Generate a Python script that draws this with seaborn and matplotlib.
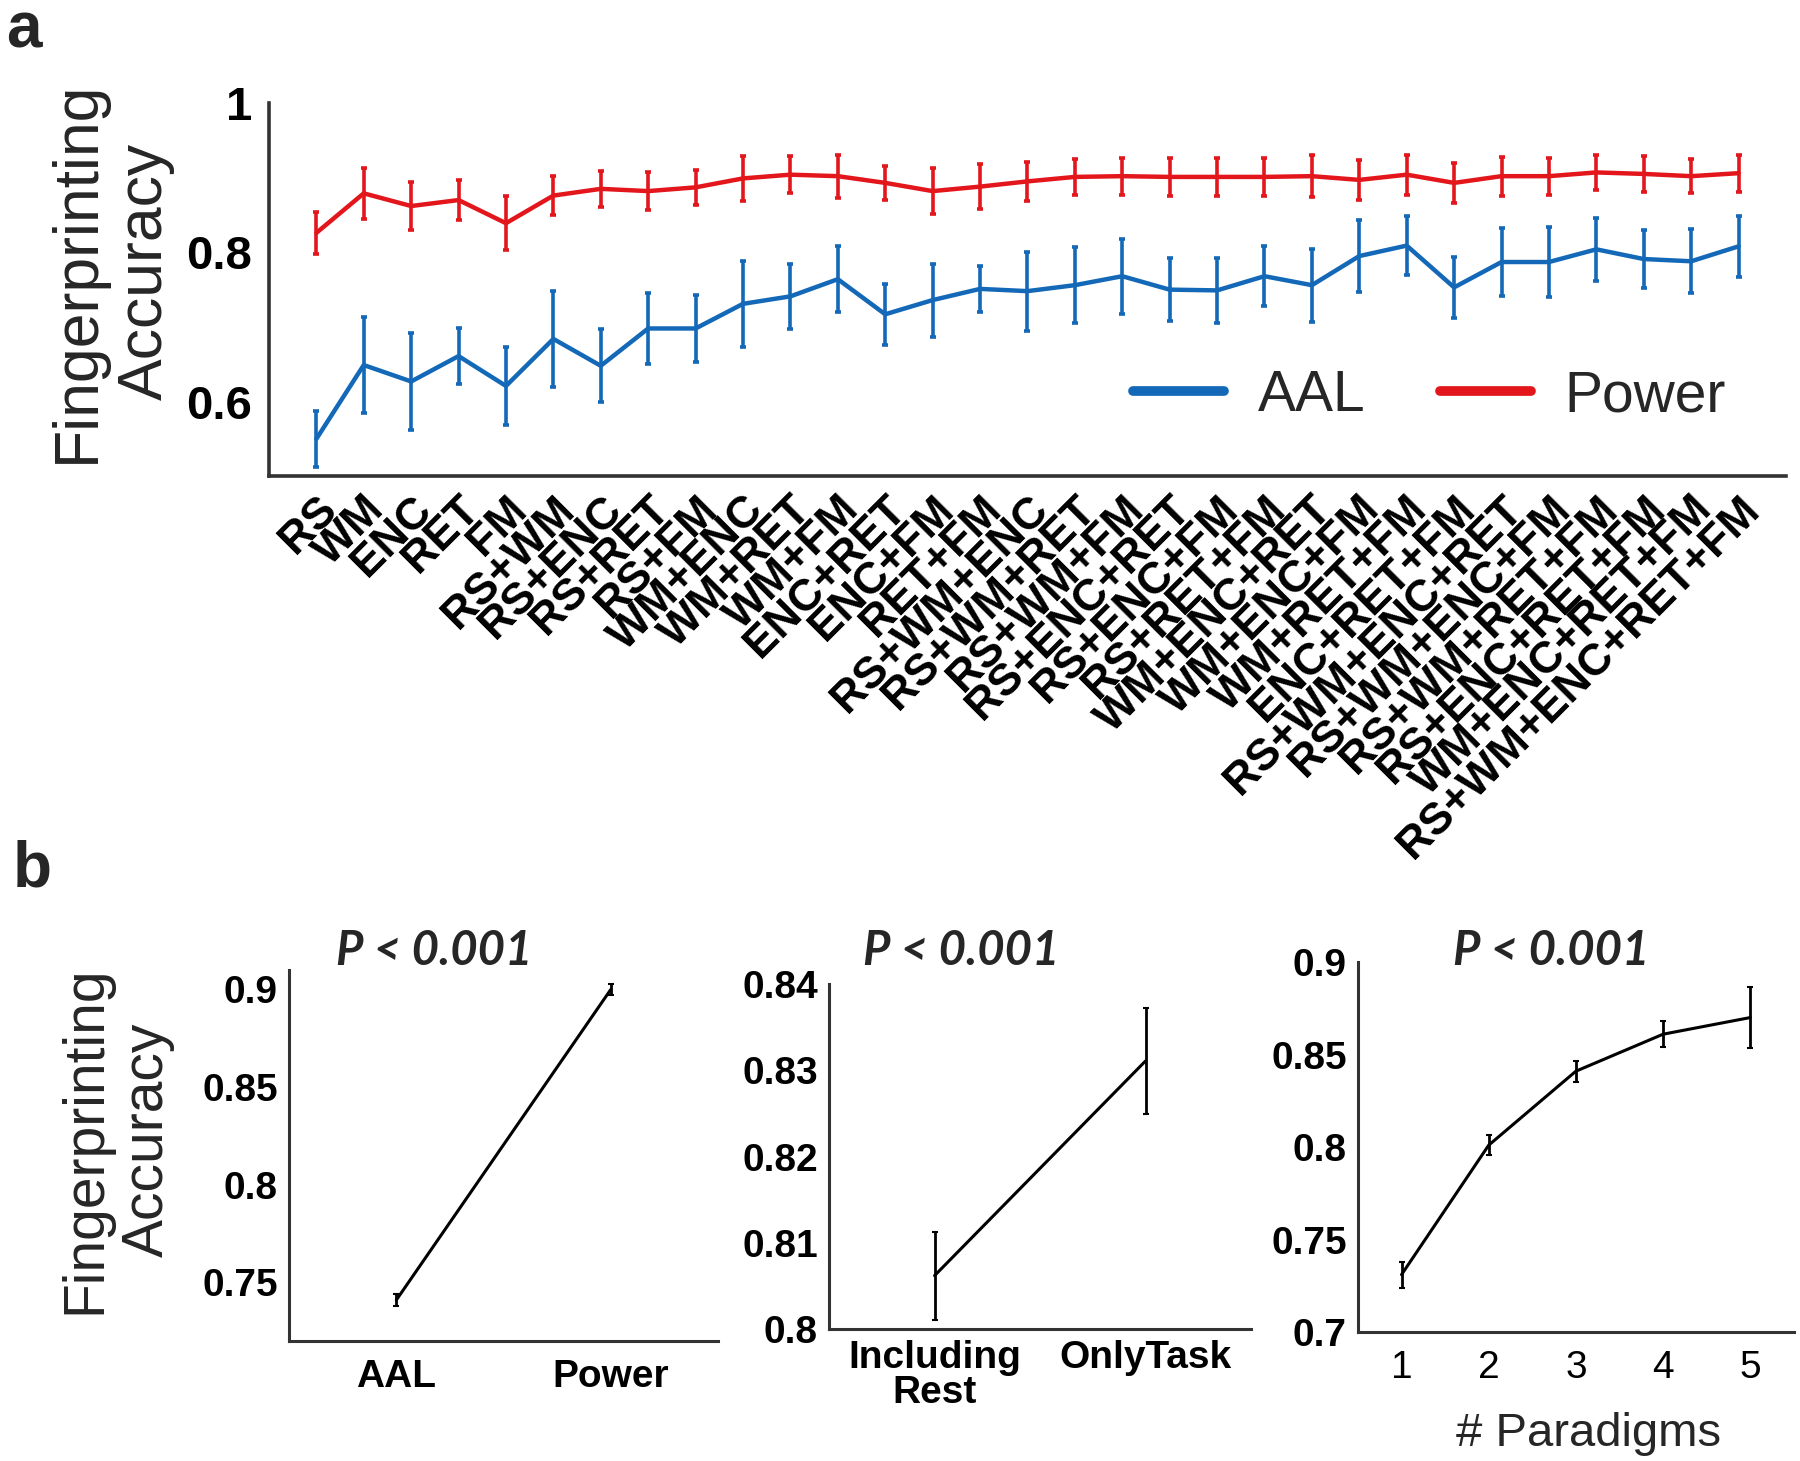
import pandas as pd
import seaborn as sns
import numpy as np
import matplotlib.pyplot as plt

# ---- panel a data ----
conditions = [
    "RS", "WM", "ENC", "RET", "FM",
    "RS+WM", "RS+ENC", "RS+RET", "RS+FM", "WM+ENC", "WM+RET", "WM+FM",
    "ENC+RET", "ENC+FM", "RET+FM",
    "RS+WM+ENC", "RS+WM+RET", "RS+WM+FM", "RS+ENC+RET", "RS+ENC+FM",
    "RS+RET+FM", "WM+ENC+RET", "WM+ENC+FM", "WM+RET+FM", "ENC+RET+FM",
    "RS+WM+ENC+RET", "RS+WM+ENC+FM", "RS+WM+RET+FM", "RS+ENC+RET+FM",
    "WM+ENC+RET+FM", "RS+WM+ENC+RET+FM",
]
aal_mean = [0.550, 0.649, 0.627, 0.661, 0.621, 0.684, 0.648, 0.698, 0.698, 0.731,
            0.741, 0.764, 0.717, 0.736, 0.751, 0.748, 0.756, 0.768, 0.750, 0.749,
            0.768, 0.756, 0.795, 0.809, 0.753, 0.787, 0.787, 0.804, 0.791, 0.788,
            0.808]
aal_err = [0.038, 0.064, 0.065, 0.037, 0.052, 0.064, 0.049, 0.048, 0.045, 0.058,
           0.044, 0.044, 0.041, 0.049, 0.031, 0.053, 0.051, 0.050, 0.042, 0.044,
           0.040, 0.049, 0.048, 0.039, 0.041, 0.045, 0.047, 0.042, 0.039, 0.043,
           0.041]
power_mean = [0.826, 0.879, 0.862, 0.870, 0.839, 0.876, 0.885, 0.882, 0.887, 0.899,
              0.904, 0.902, 0.893, 0.882, 0.888, 0.895, 0.901, 0.902, 0.901, 0.901,
              0.901, 0.902, 0.897, 0.904, 0.893, 0.902, 0.902, 0.907, 0.905, 0.902,
              0.906]
power_err = [0.028, 0.034, 0.032, 0.027, 0.036, 0.026, 0.024, 0.025, 0.023, 0.030,
             0.025, 0.029, 0.023, 0.031, 0.030, 0.026, 0.024, 0.025, 0.025, 0.025,
             0.025, 0.028, 0.027, 0.027, 0.027, 0.026, 0.025, 0.023, 0.024, 0.023,
             0.025]

# ---- panel b data ----
atlas_labels = ["AAL", "Power"]
atlas_mean = [0.741, 0.900]
atlas_err = [0.003, 0.003]

rest_labels = ["Including\nRest", "OnlyTask"]
rest_mean = [0.8062, 0.8311]
rest_err = [0.0051, 0.0061]

n_paradigms = [1, 2, 3, 4, 5]
paradigm_mean = [0.731, 0.801, 0.841, 0.861, 0.870]
paradigm_err = [0.007, 0.0055, 0.0057, 0.007, 0.0166]

BLUE = "#1468B8"
RED = "#E3161C"
SPINE = "#333333"

sns.set_theme(style="white")
plt.rcParams["font.family"] = ["Liberation Sans", "DejaVu Sans"]

fig = plt.figure(figsize=(18, 14.61), dpi=100)


def style_axes(ax, lw=2.0):
    sns.despine(ax=ax)
    for s in ["left", "bottom"]:
        ax.spines[s].set_color(SPINE)
        ax.spines[s].set_linewidth(lw)
    ax.tick_params(direction="in", colors=SPINE, labelcolor="black")


# ---------------- panel a ----------------
ax = fig.add_axes([0.1494, 0.674, 0.8428, 0.2555])
idx = np.arange(len(conditions))
df_a = pd.DataFrame({
    "x": np.concatenate([idx, idx]),
    "acc": aal_mean + power_mean,
    "atlas": ["AAL"] * len(idx) + ["Power"] * len(idx),
})
sns.lineplot(data=df_a, x="x", y="acc", hue="atlas",
             palette={"AAL": BLUE, "Power": RED}, linewidth=3.2, ax=ax)
ax.errorbar(idx, aal_mean, yerr=aal_err, fmt="none", ecolor=BLUE,
            elinewidth=2.6, capsize=2.5, capthick=2.6)
ax.errorbar(idx, power_mean, yerr=power_err, fmt="none", ecolor=RED,
            elinewidth=2.6, capsize=2.5, capthick=2.6)
ax.set_xlim(-1, len(conditions))
ax.set_ylim(0.5, 1.0)
ax.set_yticks([0.6, 0.8, 1.0])
ax.set_yticklabels(["0.6", "0.8", "1"])
ax.set_xticks(idx)
ax.set_xticklabels(conditions, rotation=45, ha="right", va="top",
                   rotation_mode="anchor", fontweight="bold", fontsize=32)
style_axes(ax, lw=2.6)
ax.tick_params(axis="y", labelsize=34, length=10, width=2, pad=12)
ax.tick_params(axis="x", length=10, width=2, pad=9)
for t in ax.get_yticklabels():
    t.set_fontweight("bold")
ax.set_xlabel("")
ax.set_ylabel("")
leg = ax.legend(loc="center", bbox_to_anchor=(0.765, 0.214), ncol=2,
                frameon=False, fontsize=41, handlelength=1.6,
                columnspacing=1.3, handletextpad=0.6)
for ln in leg.get_lines():
    ln.set_linewidth(7)

fig.text(0.062, 0.814, "Fingerprinting\nAccuracy", rotation=90, ha="center",
         va="center", fontsize=45, multialignment="center", linespacing=1.2)
fig.text(0.013, 0.979, "a", fontsize=46, fontweight="bold", ha="center", va="center")

# ---------------- panel b ----------------
def small_panel(rect, x, mean, err, ylim, yticks, yticklabels, xlim):
    bx = fig.add_axes(rect)
    df = pd.DataFrame({"x": x, "acc": mean})
    sns.lineplot(data=df, x="x", y="acc", color="black", linewidth=2.2, ax=bx)
    bx.errorbar(x, mean, yerr=err, fmt="none", ecolor="black",
                elinewidth=2.0, capsize=2, capthick=1.5)
    bx.set_ylim(*ylim)
    bx.set_xlim(*xlim)
    bx.set_yticks(yticks)
    bx.set_yticklabels(yticklabels, fontweight="bold", fontsize=28)
    style_axes(bx, lw=2.2)
    bx.tick_params(axis="both", length=5, width=1.5)
    bx.tick_params(axis="y", pad=8)
    bx.tick_params(axis="x", pad=13)
    bx.set_xlabel("")
    bx.set_ylabel("")
    return bx


b1 = small_panel([0.1606, 0.0821, 0.2383, 0.254], [0, 1], atlas_mean, atlas_err,
                 (0.72, 0.91), [0.75, 0.8, 0.85, 0.9],
                 ["0.75", "0.8", "0.85", "0.9"], (-0.5, 1.5))
b1.set_xticks([0, 1])
b1.set_xticklabels(atlas_labels, fontweight="bold", fontsize=28)

b2 = small_panel([0.4606, 0.0903, 0.2344, 0.236], [0, 1], rest_mean, rest_err,
                 (0.8, 0.84), [0.80, 0.81, 0.82, 0.83, 0.84],
                 ["0.8", "0.81", "0.82", "0.83", "0.84"], (-0.5, 1.5))
b2.set_xticks([0, 1])
b2.set_xticklabels(rest_labels, fontweight="bold", fontsize=28, linespacing=0.95)
b2.tick_params(axis="x", pad=8)

b3 = small_panel([0.7544, 0.0883, 0.2422, 0.2532], n_paradigms, paradigm_mean,
                 paradigm_err, (0.7, 0.9), [0.7, 0.75, 0.8, 0.85, 0.9],
                 ["0.7", "0.75", "0.8", "0.85", "0.9"], (0.5, 5.5))
b3.set_xticks(n_paradigms)
b3.set_xticklabels([str(v) for v in n_paradigms], fontsize=28)
b3.set_xlabel("# Paradigms", fontsize=34)
b3.xaxis.set_label_coords(0.53, -0.215)

for xp in [0.241, 0.534, 0.862]:
    fig.text(xp, 0.349, "P < 0.001", fontsize=34, fontweight="bold",
             fontstyle="italic", family=["Lato", "DejaVu Sans"],
             ha="center", va="center")

fig.text(0.065, 0.22, "Fingerprinting\nAccuracy", rotation=90, ha="center",
         va="center", fontsize=41, multialignment="center", linespacing=1.2)
fig.text(0.018, 0.405, "b", fontsize=46, fontweight="bold", ha="center", va="center")

fig.savefig("out.png", dpi=100)
